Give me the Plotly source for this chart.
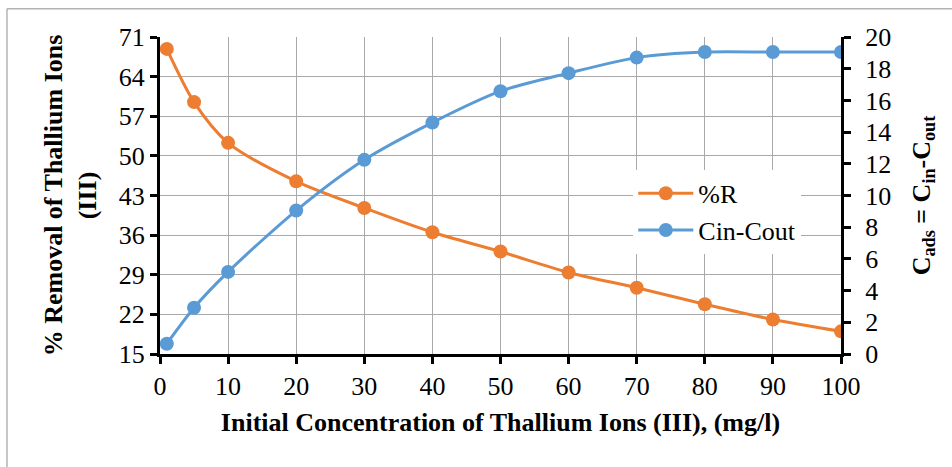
import plotly.graph_objects as go

# Initial Tl(III) concentration, mg/l
conc = [1, 5, 10, 20, 30, 40, 50, 60, 70, 80, 90, 100]
# Percentage removal
removal_pct = [68.9, 59.5, 52.3, 45.5, 40.8, 36.5, 33.1, 29.4, 26.7, 23.8, 21.1, 19.0]
# Adsorbed amount Cin - Cout, mg/l
c_ads = [0.65, 2.92, 5.18, 9.05, 12.25, 14.6, 16.58, 17.72, 18.7, 19.05, 19.05, 19.05]

x_ticks = list(range(0, 101, 10))
left_ticks = list(range(15, 72, 7))
right_ticks = list(range(0, 21, 2))

ORANGE = "#ED7D31"
BLUE = "#5B9BD5"
GRID = "#a9a9a9"
FONT = "Liberation Serif, Times New Roman, serif"
FS = 26

fig = go.Figure()
fig.add_trace(go.Scatter(
    x=conc, y=removal_pct, name="%R", mode="lines+markers",
    line=dict(color=ORANGE, width=3, shape="spline", smoothing=0.8),
    marker=dict(color=ORANGE, size=14),
))
fig.add_trace(go.Scatter(
    x=conc, y=c_ads, name="Cin-Cout", mode="lines+markers", yaxis="y2",
    line=dict(color=BLUE, width=3, shape="spline", smoothing=0.8),
    marker=dict(color=BLUE, size=14),
))

fig.update_layout(
    width=952, height=467,
    margin=dict(l=160, r=111, t=37, b=113),
    paper_bgcolor="white", plot_bgcolor="white",
    font=dict(family=FONT, size=FS, color="black"),
    xaxis=dict(
        range=[0, 100], tickvals=x_ticks, ticks="outside", ticklen=7, tickwidth=3,
        tickcolor="black", showline=True, linecolor="black", linewidth=3,
        showgrid=True, gridcolor=GRID, gridwidth=1, zeroline=False,
        tickfont=dict(size=FS),
        title=dict(text="<b>Initial Concentration of Thallium Ions (III), (mg/l)</b>",
                   font=dict(size=FS), standoff=13),
    ),
    yaxis=dict(
        range=[15, 71], tickvals=left_ticks, ticks="outside", ticklen=7, tickwidth=3,
        tickcolor="black", showline=True, linecolor="black", linewidth=3,
        showgrid=True, gridcolor=GRID, gridwidth=1, zeroline=False,
        tickfont=dict(size=FS),
        title=dict(text="<b>% Removal of Thallium Ions<br>(III)</b>",
                   font=dict(size=FS), standoff=15),
    ),
    yaxis2=dict(
        range=[0, 20], tickvals=right_ticks, overlaying="y", side="right",
        ticks="outside", ticklen=7, tickwidth=3, tickcolor="black",
        showline=True, linecolor="black", linewidth=3,
        showgrid=False, zeroline=False,
        tickfont=dict(size=FS), ticklabelstandoff=9,
        title=dict(text="<b>C<sub>ads</sub> = C<sub>in</sub>-C<sub>out</sub></b>",
                   font=dict(size=FS), standoff=22),
    ),
    legend=dict(
        x=0.695, y=0.581, xanchor="left", yanchor="top",
        bgcolor="white", font=dict(size=FS), tracegroupgap=0,
        itemwidth=55,
    ),
    showlegend=True,
)

# Chart-area frame (left and top edges)
fig.add_shape(type="line", xref="paper", yref="paper",
              x0=-0.2247, x1=1.3, y0=1.0893, y1=1.0893,
              line=dict(color="#b3b3b3", width=1.5))
fig.add_shape(type="line", xref="paper", yref="paper",
              x0=-0.2247, x1=-0.2247, y0=-0.5, y1=1.0893,
              line=dict(color="#b3b3b3", width=1.5))

fig.write_html("out.html")
